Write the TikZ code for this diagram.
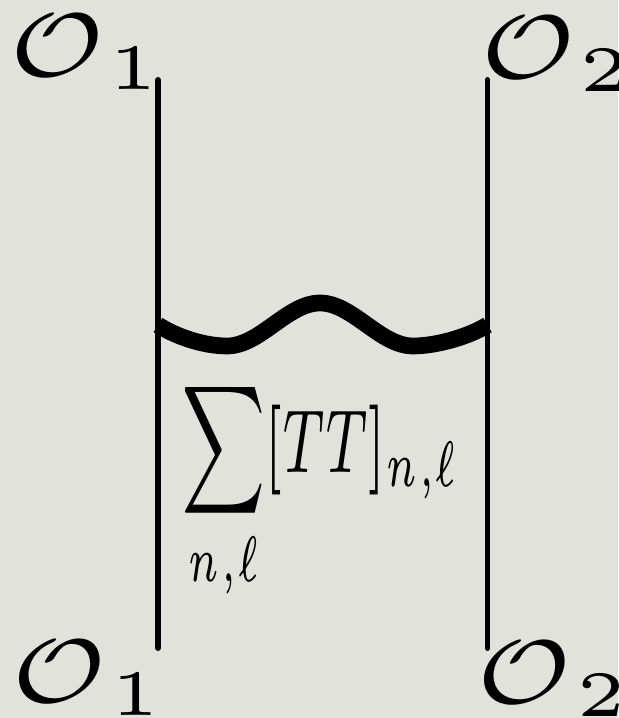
\documentclass[tikz,border=0pt]{standalone}
\usepackage{amsmath}
\definecolor{paper}{RGB}{226,226,220}
\begin{document}
\begin{tikzpicture}[
  leg/.style={line width=3.4pt, line cap=round},
  wiggle/.style={line width=9.5pt},
  lbl/.style={font=\scriptsize, inner sep=0pt, anchor=base, xscale=8.3, yscale=7.36},
  sumlbl/.style={font=\scriptsize, inner sep=0pt, anchor=base, xscale=4.22, yscale=7.3}]
  \fill[paper] (0,0) rectangle (12.36,14.36);
  \useasboundingbox (0,0) rectangle (12.36,14.36);
  % operator labels
  \node[lbl] (o1top) at (1.75,12.82) {$\mathcal{O}_{\kern.5pt 1}$};
  \node[lbl] (o2top) at (11.17,12.78) {$\mathcal{O}_{\kern.5pt 2}$};
  \node[lbl] (o1bot) at (1.79,0.30) {$\mathcal{O}_{\kern.5pt 1}$};
  \node[lbl] (o2bot) at (11.1,0.28) {$\mathcal{O}_{\kern.5pt 2}$};
  % the two legs
  \coordinate (l1) at (3.16,12.76);
  \coordinate (l2) at (3.16,1.40);
  \coordinate (r1) at (9.75,12.76);
  \coordinate (r2) at (9.75,1.40);
  \draw[leg] (l1) -- (l2);
  \draw[leg] (r1) -- (r2);
  % exchange
  \coordinate (wl) at (3.16,7.86);
  \coordinate (wr) at (9.75,7.86);
  \draw[wiggle] (wl) .. controls (3.5,7.64) and (4.05,7.44) .. (4.54,7.44)
    .. controls (5.2,7.44) and (5.75,8.3) .. (6.4,8.3)
    .. controls (7.05,8.3) and (7.6,7.44) .. (8.26,7.44)
    .. controls (8.75,7.44) and (9.4,7.64) .. (wr);
  \node[sumlbl] (sum) at (6.42,4.9) {$\displaystyle\sum_{n,\ell}[TT]_{n,\ell}$};
\end{tikzpicture}
\end{document}
